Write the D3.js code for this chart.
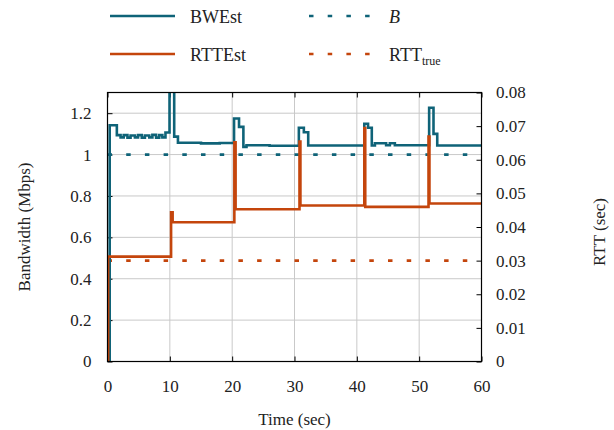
<!DOCTYPE html>
<html>
<head>
<meta charset="utf-8">
<script src="https://cdn.jsdelivr.net/npm/d3@7"></script>
<style>
  html, body { margin: 0; padding: 0; background: #fff; }
  svg text { font-family: "Liberation Serif", "DejaVu Serif", serif; fill: #222; }
</style>
</head>
<body>
<svg id="chart" width="614" height="430"></svg>
<script>
// Bandwidth estimate (Mbps), step series: [time (s), value]
const bwTime = [0, 0.35, 1.5, 2.1, 2.6, 3.2, 3.7, 4.4, 4.9, 5.5, 6.0, 6.7, 7.2, 7.8, 8.3, 8.8, 9.3, 9.95, 10.7, 11.3, 15, 18, 20.3, 21.1, 21.8, 22.3, 26, 30.7, 31.5, 32.2, 41.2, 41.8, 42.4, 42.9, 44.7, 45.3, 46.1, 51.6, 52.3, 52.9, 60];
const bwValue = [0, 1.142, 1.094, 1.083, 1.094, 1.082, 1.092, 1.083, 1.094, 1.082, 1.092, 1.083, 1.095, 1.082, 1.094, 1.083, 1.107, 1.42, 1.087, 1.057, 1.054, 1.056, 1.174, 1.134, 1.037, 1.045, 1.043, 1.13, 1.108, 1.044, 1.149, 1.13, 1.044, 1.055, 1.045, 1.055, 1.045, 1.226, 1.10, 1.044, 1.044];

// RTT estimate (s), step series
const rttTime = [0, 0.1, 10.2, 10.45, 20.35, 20.55, 30.8, 30.95, 41.2, 41.35, 51.5, 51.65, 60];
const rttValue = [0, 0.0312, 0.0444, 0.0414, 0.0652, 0.0453, 0.0654, 0.0464, 0.0694, 0.0460, 0.0669, 0.0470, 0.0470];

// Reference levels
const bottleneckB = 1.0;     // Mbps
const rttTrue = 0.03;        // s

// Axis ticks
const xTicks = [0, 10, 20, 30, 40, 50, 60];
const yLeftTicks = [0, 0.2, 0.4, 0.6, 0.8, 1, 1.2];
const yRightTicks = [0, 0.01, 0.02, 0.03, 0.04, 0.05, 0.06, 0.07, 0.08];

const tealColor = "#0f6378";
const orangeColor = "#c4450c";
const gridColor = "#c9c9c9";
const tickFont = 17;
const titleFont = 17;

const svg = d3.select("#chart");
const pL = 107.5, pR = 481.5, pT = 92.5, pB = 361.5;

const x = d3.scaleLinear().domain([0, 60]).range([pL, pR]);
const yL = d3.scaleLinear().domain([0, 1.3]).range([pB, pT]);
const yR = d3.scaleLinear().domain([0, 0.08]).range([pB, pT]);

svg.append("defs").append("clipPath").attr("id", "plotClip")
  .append("rect").attr("x", pL).attr("y", pT).attr("width", pR - pL).attr("height", pB - pT);

// Grid
const grid = svg.append("g");
grid.selectAll("line.gx").data(xTicks.slice(1, -1)).join("line")
  .attr("x1", d => x(d)).attr("x2", d => x(d)).attr("y1", pT).attr("y2", pB)
  .attr("stroke", gridColor).attr("stroke-width", 1);
grid.selectAll("line.gy").data(yLeftTicks.slice(1)).join("line")
  .attr("x1", pL).attr("x2", pR).attr("y1", d => yL(d)).attr("y2", d => yL(d))
  .attr("stroke", gridColor).attr("stroke-width", 1);

// Axes with inward ticks, no domain path (frame drawn separately)
function styleAxis(g) {
  g.select(".domain").remove();
  g.selectAll(".tick line").attr("stroke", "#000").attr("stroke-width", 1);
  g.selectAll(".tick text").attr("font-size", tickFont).attr("font-family", "Liberation Serif, serif").attr("fill", "#222");
}
const fmt = d => String(+d.toFixed(2));

const xAxis = svg.append("g").attr("transform", `translate(0,${pB})`)
  .call(d3.axisBottom(x).tickValues(xTicks).tickFormat(fmt).tickSizeInner(-5).tickPadding(18));
styleAxis(xAxis);
const xTopAxis = svg.append("g").attr("transform", `translate(0,${pT})`)
  .call(d3.axisTop(x).tickValues(xTicks).tickFormat("").tickSizeInner(-5));
styleAxis(xTopAxis);

const yAxisL = svg.append("g").attr("transform", `translate(${pL},0)`)
  .call(d3.axisLeft(yL).tickValues(yLeftTicks).tickFormat(fmt).tickSizeInner(-5).tickPadding(16));
styleAxis(yAxisL);

const yAxisR = svg.append("g").attr("transform", `translate(${pR},0)`)
  .call(d3.axisRight(yR).tickValues(yRightTicks).tickFormat(fmt).tickSizeInner(-5).tickPadding(14.5));
styleAxis(yAxisR);

// Data lines
const plot = svg.append("g").attr("clip-path", "url(#plotClip)");

const bwLine = d3.line().curve(d3.curveStepAfter).x(d => x(d[0])).y(d => yL(d[1]));
const rttLine = d3.line().curve(d3.curveStepAfter).x(d => x(d[0])).y(d => yR(d[1]));

const bwData = bwTime.map((t, i) => [t, bwValue[i]]);
const rttData = rttTime.map((t, i) => [t, rttValue[i]]);

plot.append("line")
  .attr("x1", x(0)).attr("x2", x(60)).attr("y1", yL(bottleneckB)).attr("y2", yL(bottleneckB))
  .attr("stroke", tealColor).attr("stroke-width", 2.6).attr("stroke-dasharray", "4.5,14.2");
plot.append("line")
  .attr("x1", x(0)).attr("x2", x(60)).attr("y1", yR(rttTrue)).attr("y2", yR(rttTrue))
  .attr("stroke", orangeColor).attr("stroke-width", 2.6).attr("stroke-dasharray", "4.5,14.2");

plot.append("path").datum(bwData).attr("d", bwLine)
  .attr("fill", "none").attr("stroke", tealColor).attr("stroke-width", 2.6).attr("stroke-linejoin", "miter");
plot.append("path").datum(rttData).attr("d", rttLine)
  .attr("fill", "none").attr("stroke", orangeColor).attr("stroke-width", 2.6).attr("stroke-linejoin", "miter");

// Frame
svg.append("rect").attr("x", pL).attr("y", pT).attr("width", pR - pL).attr("height", pB - pT)
  .attr("fill", "none").attr("stroke", "#000").attr("stroke-width", 1.2);

// Axis titles
svg.append("text").attr("x", (pL + pR) / 2).attr("y", 425).attr("text-anchor", "middle")
  .attr("font-size", titleFont).text("Time (sec)");
svg.append("text").attr("transform", `translate(30,${(pT + pB) / 2}) rotate(-90)`)
  .attr("text-anchor", "middle").attr("font-size", titleFont).text("Bandwidth (Mbps)");
svg.append("text").attr("transform", `translate(605,232) rotate(-90)`)
  .attr("text-anchor", "middle").attr("font-size", titleFont).text("RTT (sec)");

// Legend
const legend = [
  { label: "BWEst", color: tealColor, dash: null, lx: 110, ly: 16 },
  { label: "RTTEst", color: orangeColor, dash: null, lx: 110, ly: 54 },
  { label: "B", color: tealColor, dash: "4.5,14.2", lx: 309, ly: 16, italic: true },
  { label: "RTT", sub: "true", color: orangeColor, dash: "4.5,14.2", lx: 309, ly: 54 }
];
const lg = svg.append("g");
legend.forEach(d => {
  lg.append("line").attr("x1", d.lx).attr("x2", d.lx + 65).attr("y1", d.ly).attr("y2", d.ly)
    .attr("stroke", d.color).attr("stroke-width", 2.6).attr("stroke-dasharray", d.dash);
  const t = lg.append("text").attr("x", d.lx + 80).attr("y", d.ly + 6.5).attr("font-size", 18);
  t.append("tspan").attr("font-style", d.italic ? "italic" : null).text(d.label);
  if (d.sub) t.append("tspan").attr("font-size", 12).attr("dy", 4).text(d.sub);
});
</script>
</body>
</html>
